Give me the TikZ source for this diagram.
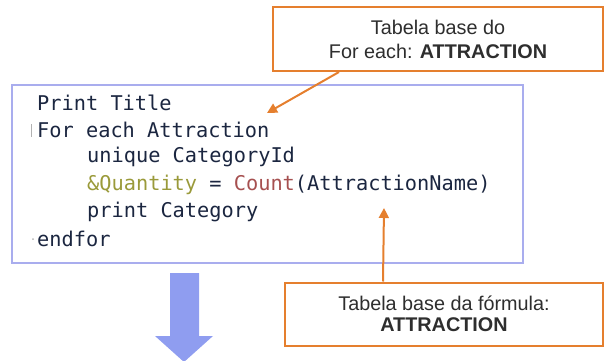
\documentclass[tikz,border=0pt]{standalone}
\usepackage{fontspec}
\setmainfont{Liberation Sans}
\newfontfamily\codefont{DejaVu Sans Mono}
\usepackage{tikz}
\usetikzlibrary{arrows.meta}
\definecolor{codeink}{HTML}{1B2640}
\definecolor{varink}{HTML}{9A9A3A}
\definecolor{funink}{HTML}{A65050}
\definecolor{calloutorange}{HTML}{E57F2E}
\definecolor{boxblue}{HTML}{A9ADEE}
\definecolor{bigarrow}{HTML}{8F9DF0}
\definecolor{noteink}{HTML}{2E2E2E}

\begin{document}
\begin{tikzpicture}[x=1pt,y=-1pt,
  codeline/.style={anchor=west,text=codeink,font=\codefont\fontsize{20.3}{22}\selectfont},
  callout/.style={draw=calloutorange,line width=2pt,fill=white,align=center,text=noteink,
    font=\fontsize{19.8}{24}\selectfont},
  pointer/.style={draw=calloutorange,line width=2pt,-{Triangle[length=10pt,width=10pt]}}]
\tikzstyle{every node}+=[inner sep=0pt]
\useasboundingbox (0,0) rectangle (605,361);
% code box
\draw [boxblue,line width=1.2pt] (12,85) rectangle (523,263);
\draw [gray!60,line width=0.8pt] (31,124) -- (31,137);
\fill [gray!60] (33,239) circle (1pt);
\node [codeline] (l1) at (37,103) {Print Title};
\node [codeline] (l2) at (37,130) {For each Attraction};
\node [codeline] (l3) at (87,157) {unique CategoryId};
\node [codeline] (l4) at (87,185) {\textcolor{varink}{\&Quantity} = \textcolor{funink}{Count}(AttractionName)};
\node [codeline] (l5) at (87,212) {print Category};
\node [codeline] (l6) at (37,239) {endfor};
% callouts
\node [callout,minimum width=330pt,minimum height=64pt] (tfor) at (438,39)
  {Tabela base do\\For each: \textbf{ATTRACTION}};
\node [callout,minimum width=318pt,minimum height=63pt,font=\fontsize{19.8}{21}\selectfont] (tform) at (444,314)
  {Tabela base da f\'ormula:\\\textbf{ATTRACTION}};
\coordinate (forend) at (267,113);
\coordinate (countarg) at (384,208);
\draw [pointer] (tfor.south west) ++(67pt,0) -- (forend);
\draw [pointer] (tform.north west) ++(99pt,0) -- (countarg);
% big arrow
\fill [bigarrow] (170,273) -- (199,273) -- (199,336) -- (213,336) -- (184,362)
  -- (155,336) -- (170,336) -- cycle;
\end{tikzpicture}
\end{document}
